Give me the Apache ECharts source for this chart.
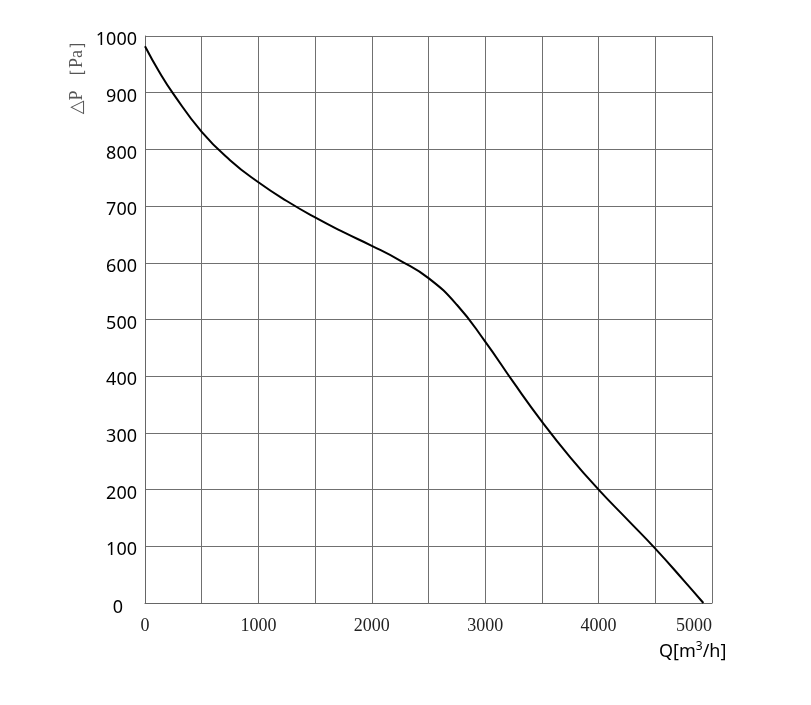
<!DOCTYPE html>
<html>
<head>
<meta charset="utf-8">
<script src="https://cdn.jsdelivr.net/npm/echarts@6/dist/echarts.min.js"></script>
<style>html,body{margin:0;padding:0;background:#fff;}#main{width:811px;height:705px;}</style>
</head>
<body>
<div id="main"></div>
<script>
var flowQ = [0, 125, 250, 500, 750, 1000, 1250, 1500, 1750, 2000, 2250, 2500, 2750, 3000, 3250, 3500, 3750, 4000, 4250, 4500, 4750, 4924];
var pressure = [982, 937, 898, 831, 781, 742, 709, 680, 654, 630, 604, 573, 526, 461, 389, 320, 257, 200, 148, 96, 40, 0];
var xTickLabels = ['0', '1000', '2000', '3000', '4000', '5000'];
var yTickLabels = ['0', '100', '200', '300', '400', '500', '600', '700', '800', '900', '1000'];

var points = flowQ.map(function (q, i) { return [q, pressure[i]]; });
var chart = echarts.init(document.getElementById('main'), null, {renderer: 'canvas'});
chart.setOption({
  animation: false,
  backgroundColor: '#fff',
  grid: {left: 145, right: 99, top: 36, bottom: 102, containLabel: false},
  xAxis: {
    type: 'value', min: 0, max: 5000, interval: 500,
    axisLine: {show: true, lineStyle: {color: '#666', width: 1}},
    axisTick: {show: false},
    splitLine: {show: true, lineStyle: {color: '#707070', width: 1}},
    axisLabel: {
      margin: 14, color: '#222', fontSize: 18, fontFamily: 'Liberation Serif, serif',
      alignMaxLabel: 'right',
      formatter: function (v) { return v % 1000 === 0 ? xTickLabels[v / 1000] : ''; }
    }
  },
  yAxis: {
    type: 'value', min: 0, max: 1000, interval: 100,
    axisLine: {show: true, lineStyle: {color: '#666', width: 1}},
    axisTick: {show: false},
    splitLine: {show: true, lineStyle: {color: '#707070', width: 1}},
    axisLabel: {
      margin: 8, color: '#000', fontSize: 18, fontFamily: 'Noto Sans, sans-serif',
      padding: [8, 0, 0, 0],
      formatter: function (v) {
        var s = yTickLabels[Math.round(v / 100)];
        return v === 0 ? '{z|' + s + '}' : s;
      },
      rich: {z: {fontSize: 18, fontFamily: 'Noto Sans, sans-serif', color: '#000', padding: [2, 14, 0, 0]}}
    }
  },
  graphic: [
    {
      type: 'text', left: 68, top: 32,
      rotation: Math.PI / 2,
      originX: 0, originY: 0,
      style: {text: '△P ［Pa］', fill: '#555', fontSize: 18, fontFamily: 'Liberation Serif, DejaVu Serif, serif'}
    },
    {
      type: 'text', left: 659, top: 641,
      style: {
        text: '{b|Q[m}{s|3}{b|/h]}',
        rich: {
          b: {fontSize: 18, fill: '#000', fontFamily: 'Noto Sans, sans-serif', verticalAlign: 'bottom'},
          s: {fontSize: 12, fill: '#000', fontFamily: 'Noto Sans, sans-serif', verticalAlign: 'top', padding: [0, 0, 8, 0]}
        }
      }
    }
  ],
  series: [{
    type: 'line', data: points, smooth: 0.5, showSymbol: false,
    lineStyle: {color: '#000', width: 2}
  }]
});
</script>
</body>
</html>
